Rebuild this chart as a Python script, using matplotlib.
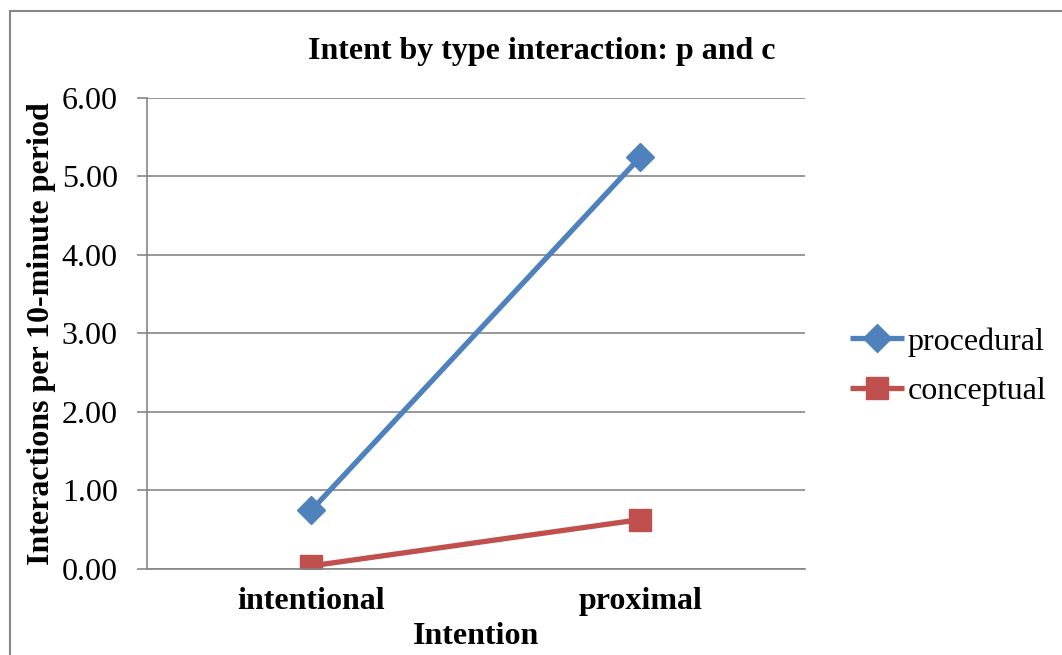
import matplotlib
matplotlib.use('Agg')
import matplotlib.pyplot as plt
from matplotlib.patches import Rectangle

plt.rcParams['font.family'] = ['Liberation Serif', 'DejaVu Serif']

categories = ['intentional', 'proximal']
procedural = [0.75, 5.25]
conceptual = [0.04, 0.63]
y_ticks = [0, 1, 2, 3, 4, 5, 6]

blue = '#4F81BD'
red = '#C0504D'
grid_col = '#868686'

fig = plt.figure(figsize=(10.62, 6.55), dpi=100)
ax = fig.add_axes([0.1384, 0.1313, 0.758 - 0.1384, 0.8504 - 0.1313])

x = list(range(len(categories)))
ax.plot(x, procedural, color=blue, lw=3.8, marker='D', ms=14, mec=blue, mfc=blue,
        label='procedural', solid_capstyle='butt')
ax.plot(x, conceptual, color=red, lw=3.8, marker='s', ms=15.5, mec=red, mfc=red,
        label='conceptual', solid_capstyle='butt')

ax.set_xlim(-0.5, 1.5)
ax.set_ylim(0, 6)
ax.set_yticks(y_ticks)
ax.set_yticklabels(['%.2f' % v for v in y_ticks], fontsize=23)
ax.set_xticks(x)
ax.set_xticklabels(categories, fontsize=23, fontweight='bold')
ax.tick_params(axis='x', length=0, pad=13)
ax.tick_params(axis='y', length=7, width=1.2, color=grid_col, pad=14)
ax.yaxis.grid(True, color=grid_col, lw=1.2)
ax.set_axisbelow(True)
for s in ['top', 'right']:
    ax.spines[s].set_visible(False)
ax.spines['left'].set_color(grid_col)
ax.spines['bottom'].set_color(grid_col)
ax.spines['left'].set_linewidth(1.2)
ax.spines['bottom'].set_linewidth(1.2)

ax.set_xlabel('Intention', fontsize=23, fontweight='bold', labelpad=4)
ax.set_ylabel('Interactions per 10-minute period', fontsize=23, fontweight='bold', labelpad=4)
fig.text(0.51, 0.921, 'Intent by type interaction: p and c', fontsize=23,
         fontweight='bold', ha='center', va='center')

ax.legend(loc='center left', bbox_to_anchor=(1.049, 0.43), frameon=False, fontsize=23,
          handlelength=1.7, handletextpad=0.1, labelspacing=0.62, borderaxespad=0)

# chart-area frame
fig.patches.append(Rectangle((10 / 1062, -0.1), 1.2, 1 - 11 / 655 + 0.1,
                             transform=fig.transFigure, fill=False,
                             edgecolor=grid_col, lw=1.5))

fig.savefig('out.png', dpi=100)
